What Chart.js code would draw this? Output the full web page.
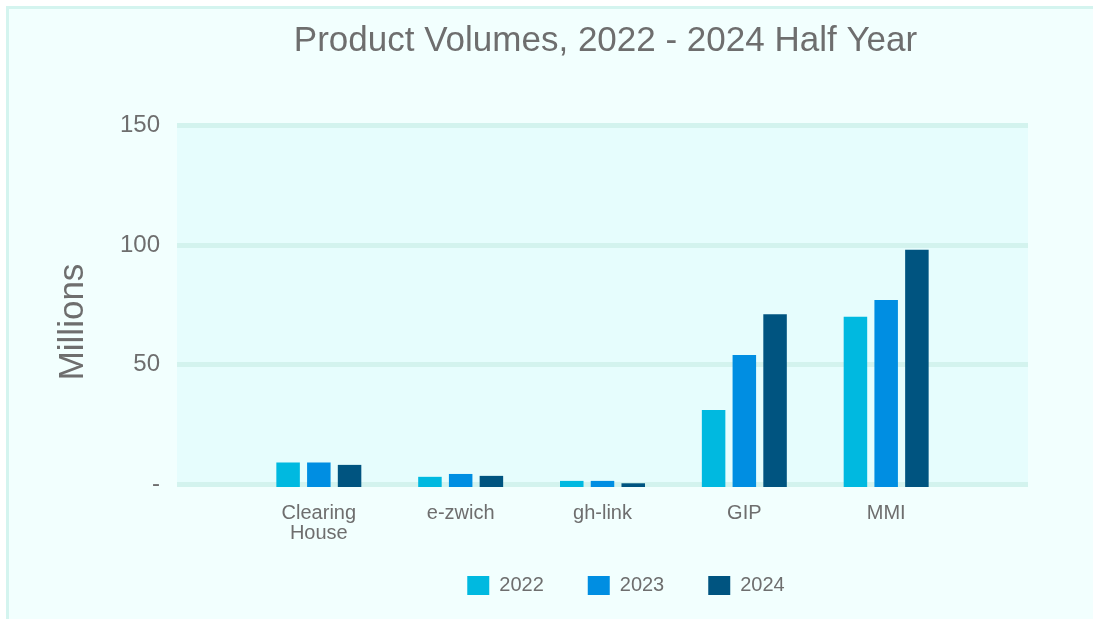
<!DOCTYPE html>
<html>
<head>
<meta charset="utf-8">
<script src="https://cdn.jsdelivr.net/npm/chart.js@4"></script>
<style>
  html, body { margin: 0; padding: 0; background: #ffffff; overflow: hidden; }
  #card {
    position: absolute; left: 6px; top: 6px; width: 1100px; height: 630px;
    border: 3px solid #d4f4ef; background: #f2fffe;
  }
  #wrap { position: absolute; left: 0; top: 0; width: 1093px; height: 619px; }
</style>
</head>
<body>
<div id="card"></div>
<div id="wrap"><canvas id="graph"></canvas></div>
<script>
// chart values (millions)
var categories = ['Clearing House', 'e-zwich', 'gh-link', 'GIP', 'MMI'];
var years = ['2022', '2023', '2024'];
var vol2022 = [9, 3, 1.3, 31, 70];
var vol2023 = [9, 4.2, 1.3, 54, 77];
var vol2024 = [8, 3.4, 0.3, 71, 98];
var yTicks = [0, 50, 100, 150];

var textColor = '#6e6e6e';
var fontName = '"Liberation Sans", Arial, sans-serif';

// blank slot at each end so the groups sit like the original
function pad(arr, blank) { return [blank].concat(arr, [blank]); }

// plot background + axis title + box shifts
var extras = {
  id: 'extras',
  afterLayout: function(chart) {
    var t = chart.titleBlock, l = chart.legend;
    var dt = 605.5 - (t.left + t.right) / 2;
    t.left += dt; t.right += dt;
    var dl = 626 - (l.left + l.right) / 2;
    l.left += dl; l.right += dl;
    // legend sits a bit higher than its default slot
    var dy = 531.5 - l.top;
    l.top += dy; l.bottom += dy;
  },
  beforeDraw: function(chart) {
    var a = chart.chartArea, c = chart.ctx;
    c.save();
    c.fillStyle = '#e6fdfd';
    c.fillRect(a.left, a.top, a.right - a.left, a.bottom - a.top);
    c.restore();
  },
  afterDraw: function(chart) {
    var c = chart.ctx;
    c.save();
    c.translate(73, 322);
    c.rotate(-Math.PI / 2);
    c.font = '35px ' + fontName;
    c.fillStyle = textColor;
    c.textAlign = 'center';
    c.textBaseline = 'middle';
    c.fillText('Millions', 0, 0);
    c.restore();
  }
};

document.addEventListener("DOMContentLoaded", function() {
  var ctx = document.getElementById('graph').getContext('2d');
  var colors = ['#00b9e0', '#008ee2', '#005480'];
  var series = [vol2022, vol2023, vol2024];

  new Chart(ctx, {
    type: 'bar',
    data: {
      labels: pad(categories, ''),
      datasets: years.map(function(y, i) {
        return {
          label: y,
          data: pad(series[i], null),
          backgroundColor: colors[i],
          borderWidth: 0,
          base: -1.25, // bars run down to the bottom of the zero line
          clip: false,
          categoryPercentage: 0.65,
          barPercentage: 0.765
        };
      })
    },
    plugins: [extras],
    options: {
      responsive: true,
      maintainAspectRatio: false,
      animation: false,
      layout: { padding: { left: 0, right: 65, top: 0, bottom: 0 } },
      plugins: {
        title: {
          display: true,
          text: 'Product Volumes, 2022 - 2024 Half Year',
          color: textColor,
          font: { family: fontName, size: 35, weight: 'normal', lineHeight: 1.2 },
          padding: { top: 20, bottom: 63.5 }
        },
        legend: {
          position: 'bottom',
          labels: {
            color: textColor,
            font: { family: fontName, size: 20 },
            boxWidth: 22,
            boxHeight: 19,
            padding: 44
          }
        },
        tooltip: { enabled: false }
      },
      scales: {
        x: {
          offset: false,
          grid: { display: false, drawTicks: false },
          border: { display: false },
          afterFit: function(s) {
            var lh = s.chart.legend ? s.chart.legend.height : 75;
            s.height = 619 - lh - 484;
          },
          ticks: {
            color: textColor,
            padding: 19,
            maxRotation: 0,
            autoSkip: false,
            font: { family: fontName, size: 20, lineHeight: 1.0 },
            callback: function(v) {
              var lbl = String(this.getLabelForValue(v) || '');
              return lbl.indexOf(' ') > 0 ? lbl.split(' ') : lbl;
            }
          }
        },
        y: {
          min: yTicks[0],
          max: yTicks[yTicks.length - 1],
          afterFit: function(s) { s.width = 177; },
          afterBuildTicks: function(s) {
            s.ticks = yTicks.map(function(v) { return { value: v }; });
          },
          grid: { color: '#d3f3ee', lineWidth: 5, drawTicks: false },
          border: { display: false },
          ticks: {
            color: textColor,
            padding: 17,
            font: { family: fontName, size: 24 },
            callback: function(v) { return v === 0 ? '-' : v; }
          }
        }
      }
    }
  });
});
</script>
</body>
</html>
